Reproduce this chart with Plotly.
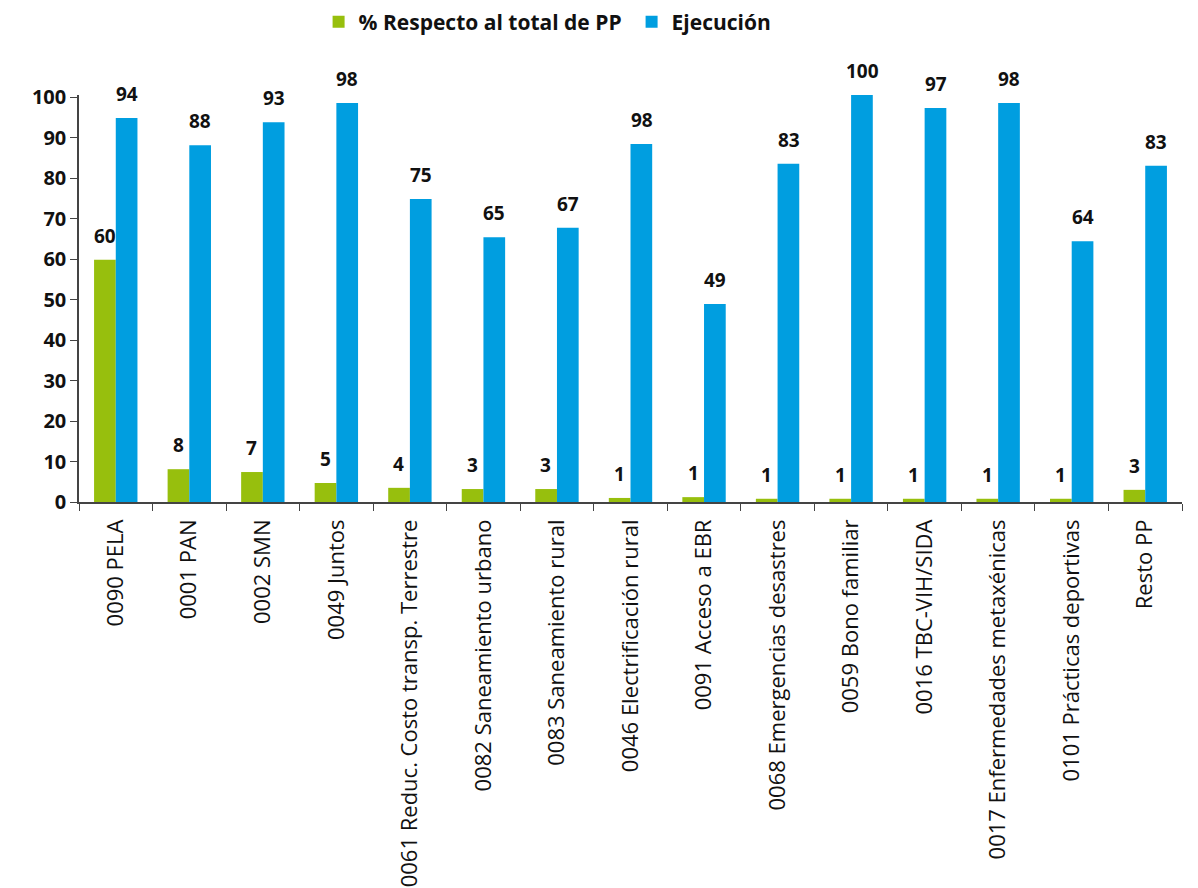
import plotly.graph_objects as go

categories = [
    "0090 PELA", "0001 PAN", "0002 SMN", "0049 Juntos",
    "0061 Reduc. Costo transp. Terrestre", "0082 Saneamiento urbano",
    "0083 Saneamiento rural", "0046 Electrificación rural",
    "0091 Acceso a EBR", "0068 Emergencias desastres",
    "0059 Bono familiar", "0016 TBC-VIH/SIDA",
    "0017 Enfermedades metaxénicas", "0101 Prácticas deportivas", "Resto PP",
]
pct_total = [59.8, 8.1, 7.4, 4.7, 3.5, 3.2, 3.2, 1.0, 1.2, 0.8, 0.8, 0.8, 0.8, 0.8, 3.0]
pct_labels = ["60", "8", "7", "5", "4", "3", "3", "1", "1", "1", "1", "1", "1", "1", "3"]
ejecucion = [94.8, 88.1, 93.8, 98.5, 74.8, 65.4, 67.7, 88.4, 48.9, 83.5, 100.5, 97.3, 98.5, 64.4, 83.0]
ejec_labels = ["94", "88", "93", "98", "75", "65", "67", "98", "49", "83", "100", "97", "98", "64", "83"]
y_ticks = [0, 10, 20, 30, 40, 50, 60, 70, 80, 90, 100]

GREEN = "#97BF0D"
BLUE = "#009EE0"
FONT = "Open Sans"

fig = go.Figure()
fig.add_trace(go.Bar(
    x=categories, y=pct_total, name="<b>% Respecto al total de PP</b>",
    marker=dict(color=GREEN, line=dict(width=0)), cliponaxis=False,
))
fig.add_trace(go.Bar(
    x=categories, y=ejecucion, name="<b>Ejecución</b>",
    marker=dict(color=BLUE, line=dict(width=0)), cliponaxis=False,
))

# value labels above bars
for i, cat in enumerate(categories):
    fig.add_annotation(x=cat, y=pct_total[i], text=f"<b>{pct_labels[i]}</b>",
                       xshift=-11, yshift=24, showarrow=False,
                       font=dict(family=FONT, size=19, color="#111"))
    fig.add_annotation(x=cat, y=ejecucion[i], text=f"<b>{ejec_labels[i]}</b>",
                       xshift=11, yshift=24, showarrow=False,
                       font=dict(family=FONT, size=19, color="#111"))

fig.update_layout(
    width=1190, height=880,
    barmode="group", bargap=0.41, bargroupgap=0,
    paper_bgcolor="white", plot_bgcolor="white",
    margin=dict(t=87, b=386, l=71, r=16),
    font=dict(family=FONT, color="#111"),
    showlegend=True,
    legend=dict(orientation="h", xref="container", yref="container",
                x=0.261, xanchor="left", y=0.984, yanchor="middle",
                font=dict(family=FONT, size=21, color="#111"),
                entrywidth=268, entrywidthmode="pixels", traceorder="normal"),
    xaxis=dict(
        showline=True, linecolor="#444", linewidth=1.5, automargin=False,
        ticks="outside", tickson="boundaries", ticklen=7, tickcolor="#444",
        tickangle=-90, ticklabelstandoff=7,
        tickfont=dict(family=FONT, size=22, color="#111"),
        showgrid=False,
    ),
    yaxis=dict(
        range=[0, 100.5], tickvals=y_ticks, showline=True, linecolor="#444",
        linewidth=1.5, automargin=False,
        ticks="outside", ticklen=7, tickcolor="#444", showgrid=False, zeroline=False,
        tickfont=dict(family=FONT, size=20, color="#111", weight="bold"),
    ),
)

fig.write_html("out.html")
